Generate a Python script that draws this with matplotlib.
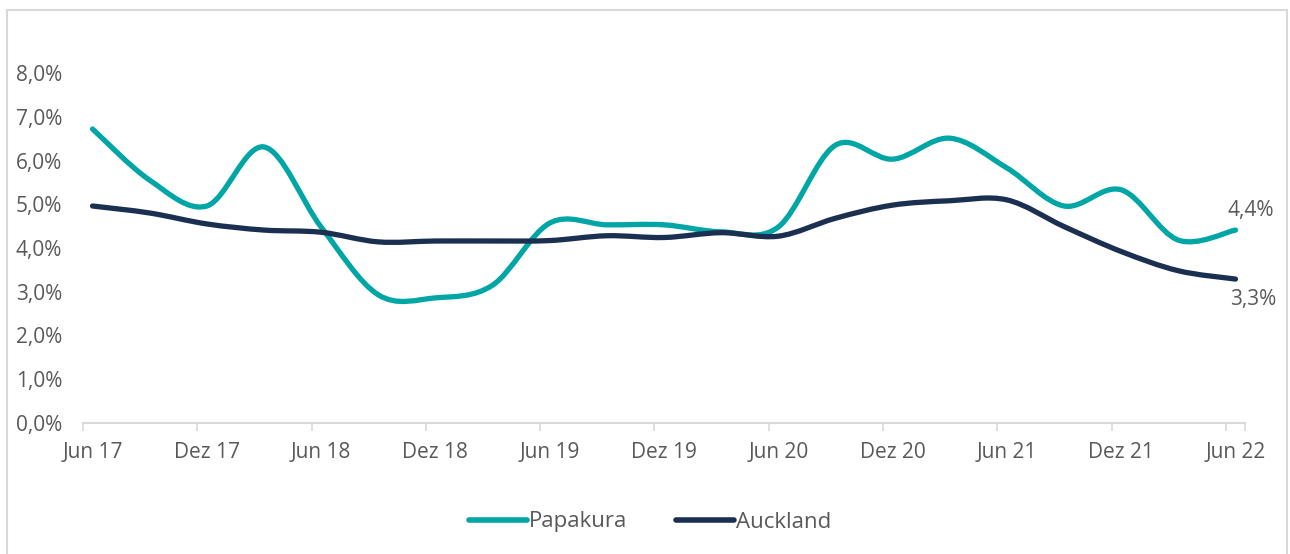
import matplotlib.pyplot as plt
from matplotlib.path import Path
from matplotlib.patches import PathPatch, Rectangle
from matplotlib.lines import Line2D

# monthly category axis Jun 17 .. Jun 22, values are quarterly readings
tick_labels = ['Jun 17', 'Dez 17', 'Jun 18', 'Dez 18', 'Jun 19', 'Dez 19',
               'Jun 20', 'Dez 20', 'Jun 21', 'Dez 21', 'Jun 22']
quarter_idx = list(range(0, 61, 3))

papakura = [6.72, 5.55, 4.96, 6.31, 4.48, 2.93, 2.86, 3.15, 4.57, 4.53, 4.53,
            4.37, 4.48, 6.35, 6.03, 6.51, 5.83, 4.96, 5.33, 4.18, 4.41]
auckland = [4.96, 4.80, 4.55, 4.41, 4.36, 4.14, 4.16, 4.16, 4.17, 4.28, 4.24,
            4.35, 4.27, 4.68, 4.98, 5.08, 5.10, 4.49, 3.92, 3.48, 3.29]

teal = '#00A5A5'
navy = '#1B3050'
grey = '#595959'
fs = 15


def smooth_path(xs, ys):
    # Excel-like smoothed line: cubic Bezier through every point
    n = len(xs)
    verts = [(xs[0], ys[0])]
    codes = [Path.MOVETO]
    for i in range(n - 1):
        x0, y0 = (xs[i - 1], ys[i - 1]) if i > 0 else (xs[i], ys[i])
        x3, y3 = (xs[i + 2], ys[i + 2]) if i + 2 < n else (xs[i + 1], ys[i + 1])
        c1 = (xs[i] + (xs[i + 1] - x0) / 6, ys[i] + (ys[i + 1] - y0) / 6)
        c2 = (xs[i + 1] - (x3 - xs[i]) / 6, ys[i + 1] - (y3 - ys[i]) / 6)
        verts += [c1, c2, (xs[i + 1], ys[i + 1])]
        codes += [Path.CURVE4] * 3
    return Path(verts, codes)


fig = plt.figure(figsize=(12.9, 5.54), dpi=100)
plt.rcParams['font.family'] = ['Open Sans', 'DejaVu Sans']
ax = fig.add_axes([83 / 1290, 131 / 554, 1162 / 1290, 350 / 554])

for vals, col in [(papakura, teal), (auckland, navy)]:
    ax.add_patch(PathPatch(smooth_path(quarter_idx, vals), facecolor='none',
                           edgecolor=col, lw=3.8, capstyle='round',
                           joinstyle='round', clip_on=False))

ax.set_xlim(-0.5, 60.5)
ax.set_ylim(0, 8)
ax.set_yticks(range(0, 9))
ax.set_yticklabels([f'{v},0%' for v in range(0, 9)], fontsize=fs, color=grey)
ax.set_xticks(range(0, 61, 6))
ax.set_xticklabels(tick_labels, fontsize=fs, color=grey)
ax.set_xticks([x - 0.5 for x in range(0, 61, 6)] + [60.5], minor=True)
ax.tick_params(axis='x', which='major', length=0, pad=14)
ax.tick_params(axis='x', which='minor', length=6, color='#D9D9D9', width=1.2)
ax.tick_params(axis='y', length=0, pad=15)
for s in ['top', 'right', 'left']:
    ax.spines[s].set_visible(False)
ax.spines['bottom'].set_color('#D9D9D9')
ax.spines['bottom'].set_linewidth(1.5)

ax.annotate('4,4%', (quarter_idx[-1], papakura[-1]), xytext=(11, 14),
            textcoords='offset points', ha='center', va='center',
            fontsize=fs, color=grey)
ax.annotate('3,3%', (quarter_idx[-1], auckland[-1]), xytext=(13, -15),
            textcoords='offset points', ha='center', va='center',
            fontsize=fs, color=grey)

handles = [Line2D([], [], color=teal, lw=4, solid_capstyle='round'),
           Line2D([], [], color=navy, lw=4, solid_capstyle='round')]
leg = fig.legend(handles, ['Papakura', 'Auckland'], loc='center',
                 bbox_to_anchor=(650 / 1290, 1 - 522 / 554), ncol=2,
                 frameon=False, fontsize=fs + 1, handlelength=2.6,
                 handletextpad=0.1, columnspacing=2.2)
for t in leg.get_texts():
    t.set_color(grey)

fig.patches.append(Rectangle((7 / 1290, -0.05), 1280 / 1290, 1.05 - 10 / 554,
                             transform=fig.transFigure, fill=False,
                             edgecolor='#D9D9D9', lw=1.5))

fig.savefig('out.png', dpi=100)
